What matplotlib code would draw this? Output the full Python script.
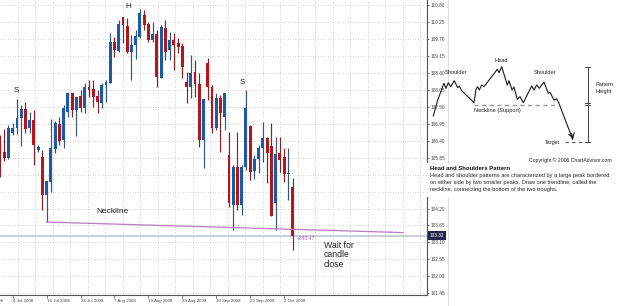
import numpy as np
import matplotlib.pyplot as plt
import matplotlib.transforms as mtransforms
from matplotlib.patches import Rectangle

plt.rcParams['font.family'] = ['Liberation Sans', 'DejaVu Sans']

# daily candles, bar 3 = 4 Jul 2008
opens = [106.36, 106.03, 105.84, 106.65, 106.81, 107.14, 107.43, 106.81, 107.07, 106.10,
         105.87, 104.64, 105.06, 106.13, 106.94, 106.42, 107.33, 107.95, 107.39, 107.85,
         107.46, 108.14, 108.08, 107.85, 107.62, 108.21, 108.27, 109.60, 109.31, 110.41,
         110.12, 109.28, 109.50, 109.76, 110.48, 110.18, 109.67, 109.86, 108.43, 110.05,
         109.34, 109.67, 109.57, 109.47, 108.30, 108.14, 108.63, 108.24, 106.42, 108.92,
         108.14, 106.81, 107.78, 107.17, 105.94, 104.31, 105.55, 104.31, 105.55, 106.88,
         105.42, 105.81, 106.16, 106.49, 106.23, 104.38, 106.00, 105.87, 105.32, 104.90]
highs = [106.58, 106.78, 106.91, 106.97, 107.75, 107.56, 107.65, 107.33, 107.39, 106.26,
         106.10, 105.09, 107.10, 107.04, 107.17, 107.56, 107.95, 107.95, 107.82, 108.04,
         108.27, 108.37, 108.37, 108.04, 108.27, 108.37, 109.89, 109.76, 110.31, 110.41,
         110.38, 109.83, 109.99, 110.67, 110.64, 110.25, 110.25, 109.99, 110.15, 110.31,
         109.92, 109.89, 109.73, 109.57, 108.63, 109.18, 109.02, 108.59, 107.75, 109.08,
         108.21, 107.95, 107.88, 107.95, 106.68, 105.61, 106.68, 105.61, 108.04, 106.91,
         105.94, 106.26, 107.01, 106.52, 106.97, 106.52, 106.52, 106.16, 106.16, 105.19]
lows = [105.22, 105.74, 105.81, 106.58, 106.62, 106.23, 106.65, 106.65, 105.61, 106.03,
        104.15, 103.76, 104.74, 106.00, 106.26, 106.16, 107.17, 107.17, 106.55, 107.33,
        107.30, 107.82, 107.49, 107.30, 107.46, 107.65, 108.27, 109.11, 109.28, 109.57,
        109.24, 108.37, 109.05, 109.73, 109.99, 109.60, 109.60, 108.14, 108.43, 109.02,
        109.02, 108.69, 109.24, 108.43, 107.62, 107.78, 107.82, 106.20, 105.51, 107.72,
        106.65, 106.75, 106.03, 106.75, 104.25, 103.50, 104.15, 103.99, 105.45, 105.12,
        105.16, 105.35, 105.71, 105.03, 103.96, 103.50, 105.38, 105.06, 104.48, 102.85]
closes = [105.94, 105.84, 106.81, 106.81, 107.14, 107.43, 106.78, 107.07, 106.26, 106.20,
          104.64, 105.09, 106.16, 106.97, 106.39, 107.46, 107.95, 107.39, 107.82, 107.46,
          108.14, 108.04, 107.82, 107.65, 108.21, 108.30, 109.60, 109.34, 110.18, 110.15,
          109.28, 109.50, 109.79, 110.54, 110.15, 109.67, 109.86, 108.47, 110.09, 109.28,
          109.67, 109.50, 109.44, 108.79, 108.14, 108.59, 108.24, 106.42, 107.75, 108.14,
          106.81, 107.78, 107.30, 107.95, 104.38, 105.55, 104.31, 105.55, 107.46, 105.38,
          105.81, 106.16, 106.49, 106.00, 103.96, 105.97, 105.77, 105.32, 105.35, 103.32]

date_bars = [3, 11, 19, 27, 35, 43, 51, 59, 67]
date_labels = ['4 Jul 2008', '16 Jul 2008', '28 Jul 2008', '7 Aug 2008', '19 Aug 2008',
               '29 Aug 2008', '10 Sep 2008', '22 Sep 2008', '2 Oct 2008']
first_bar, first_label = -5, '24 Jun 2008'

price_ticks = [101.45, 102.00, 102.55, 103.10, 103.65, 104.20, 104.75, 105.30, 105.85,
               106.40, 106.95, 107.50, 108.05, 108.60, 109.15, 109.70, 110.25, 110.80]
hidden_ticks = [104.75, 105.30]   # covered by the pattern description box
last_price = 103.32

neck_bars = [11, 95]
neck_prices = [103.76, 103.42]

# schematic on the right (figure pixels)
diagram_x = [433.3, 437.7, 441.7, 444, 446, 448.3, 450.7, 454.3, 457.7, 459.3, 461.7, 474,
             476, 477.7, 479.3, 481.7, 484, 497.3, 499, 501.7, 507.3, 509, 512, 514, 517.3,
             520, 523.3, 531.7, 534, 536.7, 539.3, 544, 548.3, 550, 554, 556.7, 558.7, 572.7]
diagram_y = [116, 100, 89.3, 83.3, 88.3, 82.7, 86.7, 80.7, 87.7, 86, 90.7, 102.7,
             89.3, 86.7, 90, 85, 86.7, 69.3, 72.7, 66.7, 85, 80.7, 90, 87, 99.3,
             96.7, 102.7, 86, 90, 85, 88.3, 82, 93.3, 92.3, 100, 98.7, 102.7, 139.3]

BLUE = '#1c5aa8'
RED = '#b5161b'

fig = plt.figure(figsize=(6.25, 3.06), dpi=100)
fig.patch.set_facecolor('white')
ax = fig.add_axes((0, 11 / 306, 427 / 625, 295 / 306))

x = np.arange(len(opens))
o = np.array(opens)
c = np.array(closes)
up = c >= o
body_col = np.where(up, BLUE, RED)
wick_col = np.where(up, '#35557e', '#8a2024')

ax.vlines(x, lows, highs, colors=wick_col, lw=0.85, zorder=3)
ax.bar(x, np.maximum(np.abs(c - o), 0.025), bottom=np.minimum(o, c), width=0.68,
       color=body_col, linewidth=0, zorder=4)

ax.set_xlim(0, 100.7)
ax.set_ylim(101.395, 110.962)

# MT4 style grid: dotted, fixed pixel spacing vertically
grid_x = np.arange(17.5, 427, 17.5) / 4.24
ax.set_xticks(grid_x, minor=True)
ax.grid(which='minor', axis='x', color='#c4c4c4', linestyle=(0, (1, 2)), lw=0.6)
ax.set_yticks(price_ticks)
ax.set_yticklabels(['' if v in hidden_ticks else '%.2f' % v for v in price_ticks])
ax.grid(which='major', axis='y', color='#c4c4c4', linestyle=(0, (1, 2)), lw=0.6)
ax.set_axisbelow(True)

ax.yaxis.tick_right()
ax.tick_params(axis='y', length=1.6, width=0.5, pad=1.2, labelsize=3.4,
               colors='#444')
ax.tick_params(axis='x', which='major', length=2, width=0.5, pad=0.8, labelsize=3.2,
               colors='#444')
ax.tick_params(axis='x', which='minor', length=0)
ax.set_xticks(date_bars)
ax.set_xticklabels(date_labels)
for lbl in ax.get_xticklabels():
    lbl.set_horizontalalignment('left')

trans_x = mtransforms.blended_transform_factory(ax.transData, ax.transAxes)
ax.text(first_bar, -0.012, first_label, transform=trans_x, ha='left', va='top',
        fontsize=3.2, color='#444')

for side in ['left', 'top']:
    ax.spines[side].set_visible(False)
for side in ['right', 'bottom']:
    ax.spines[side].set_color('#555555')
    ax.spines[side].set_linewidth(0.8)

# bid line and price tag
ax.axhline(last_price, color='#c6cad2', lw=1.3, zorder=2)
trans_y = mtransforms.blended_transform_factory(ax.transAxes, ax.transData)
ax.text(1.006, last_price, '%.2f' % last_price, transform=trans_y, ha='left', va='center',
        fontsize=3.4, color='white', clip_on=False,
        bbox=dict(boxstyle='square,pad=0.35', fc='#23234d', ec='none'))

# neckline
ax.plot(neck_bars, neck_prices, color='#b97cc2', lw=0.9, zorder=5)

ax.text(26.6, 104.10, 'Neckline', fontsize=6, color='#222', ha='center', va='center')
ax.text(3.8, 108.04, 'S', fontsize=5.8, color='#222', ha='center', va='center')
ax.text(30.2, 110.74, 'H', fontsize=5.8, color='#222', ha='center', va='center')
ax.text(57.1, 108.30, 'S', fontsize=5.8, color='#222', ha='center', va='center')
ax.text(70.0, 103.24, '+840.47', fontsize=3.6, color='#a060b0', ha='left', va='center')
ax.text(76.4, 103.15, 'Wait for\ncandle\nclose', fontsize=6.3, color='#222', ha='left',
        va='top', linespacing=1.05)

# right panel overlay in pixel units
ov = fig.add_axes((0, 0, 1, 1), zorder=5)
ov.set_xlim(0, 625)
ov.set_ylim(306, 0)
ov.axis('off')
ov.patch.set_alpha(0)

ov.plot([448, 448], [0, 163], color='#e2e2e2', lw=0.7)
ov.plot([448, 448], [197, 306], color='#e2e2e2', lw=0.7)
ov.add_patch(Rectangle((424, 163), 201, 34, fc='white', ec='none'))

ov.plot(diagram_x, diagram_y, color='#1a1a1a', lw=0.8)
ov.annotate('', xy=(diagram_x[-1] + 1.2, diagram_y[-1] + 2.5),
            xytext=(diagram_x[-2] + 12, diagram_y[-2] + 28),
            arrowprops=dict(arrowstyle='->,head_length=0.35,head_width=0.2',
                            color='#1a1a1a', lw=0.8))
ov.plot([474, 558.5], [104.7, 104.7], color='#9a9a9a', lw=1.0, dashes=(3, 2.5))
ov.plot([565, 590], [142, 142], color='#555', lw=0.8, dashes=(3, 3))

ov.plot([587.7, 587.7], [66.7, 141.7], color='#444', lw=0.7)
for yy in [66.7, 102.8, 105.2, 141.7]:
    ov.plot([585.2, 590.2], [yy, yy], color='#444', lw=0.7)

ov.text(444.5, 72.7, 'Shoulder', fontsize=4.1, color='#222', ha='left', va='center')
ov.text(501.5, 60.5, 'Head', fontsize=4.1, color='#222', ha='center', va='center')
ov.text(534, 72.7, 'Shoulder', fontsize=4.1, color='#222', ha='left', va='center')
ov.text(474, 110.7, 'Neckline (Support)', fontsize=4.1, color='#222', ha='left', va='center')
ov.text(604, 88, 'Pattern\nHeight', fontsize=4.1, color='#222', ha='center', va='center',
        linespacing=1.35)
ov.text(545, 142.3, 'Target', fontsize=4.0, color='#222', ha='left', va='center')
ov.text(529, 160.3, 'Copyright \u00a9 2006 ChartAdvisor.com', fontsize=3.7, color='#222',
        ha='left', va='center')
ov.text(430, 169, 'Head and Shoulders Pattern', fontsize=4.3, fontweight='bold',
        color='#111', ha='left', va='center')
ov.text(430, 173.3,
        'Head and shoulder patterns are characterized by a large peak bordered\n'
        'on either side by two smaller peaks. Draw one trendline, called the\n'
        'neckline, connecting the bottom of the two troughs.',
        fontsize=4.1, color='#222', ha='left', va='top', linespacing=1.42)

fig.savefig('out.png', dpi=100)
